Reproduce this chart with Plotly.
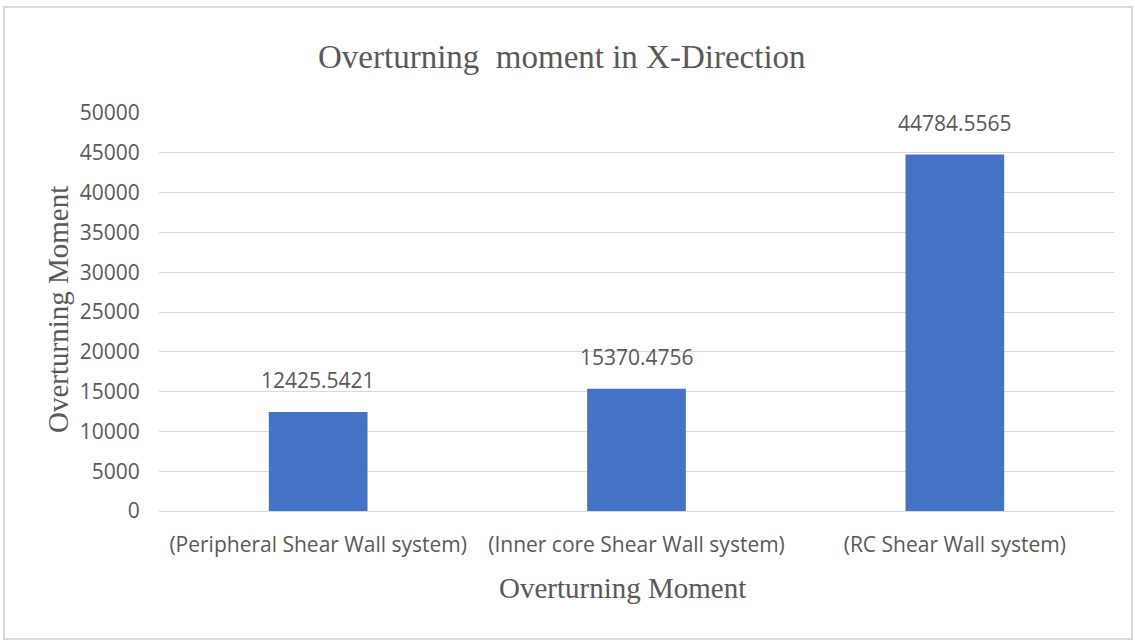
import plotly.graph_objects as go

categories = ["(Peripheral Shear Wall system)", "(Inner core Shear Wall system)", "(RC Shear Wall system)"]
values = [12425.5421, 15370.4756, 44784.5565]
value_labels = ["12425.5421", "15370.4756", "44784.5565"]
title_text = "Overturning  moment in X-Direction"
x_title = "Overturning Moment"
y_title = "Overturning Moment"

W, H = 1135, 640
L, R, T, B = 159, 21, 113, 129
pw = W - L - R
ph = H - T - B

def px(x):
    return (x - L) / pw

def py(y):
    return (H - B - y) / ph

gray = "#595959"
sans = "Open Sans, sans-serif"
serif = "Liberation Serif, Times New Roman, serif"

fig = go.Figure(go.Bar(
    x=categories, y=values, width=0.31,
    marker=dict(color="#4472C4", line=dict(width=0)),
))

annotations = [
    dict(text=t, x=c, y=v, xref="x", yref="y", xanchor="center", yanchor="bottom",
         yshift=16, showarrow=False, font=dict(family=sans, size=21, color=gray))
    for c, v, t in zip(categories, values, value_labels)
]
annotations += [
    dict(text=title_text, x=px(562), y=py(57), xref="paper", yref="paper",
         xanchor="center", yanchor="middle", showarrow=False,
         font=dict(family=serif, size=33, color=gray)),
    dict(text=y_title, x=px(58), y=py(310), xref="paper", yref="paper",
         xanchor="center", yanchor="middle", showarrow=False, textangle=-90,
         font=dict(family=serif, size=29, color=gray)),
    dict(text=x_title, x=px(622), y=py(588), xref="paper", yref="paper",
         xanchor="center", yanchor="middle", showarrow=False,
         font=dict(family=serif, size=29, color=gray)),
]

fig.update_layout(
    width=W, height=H,
    margin=dict(l=L, r=R, t=T, b=B, autoexpand=False),
    paper_bgcolor="white", plot_bgcolor="white",
    showlegend=False,
    xaxis=dict(
        showgrid=False, showline=True, linecolor="#D9D9D9", linewidth=1,
        ticks="outside", ticklen=15, tickcolor="rgba(0,0,0,0)",
        tickfont=dict(family=sans, size=21, color=gray),
        automargin=False,
    ),
    yaxis=dict(
        range=[0, 50000], dtick=5000, showgrid=True, gridcolor="#D9D9D9", gridwidth=1,
        zeroline=False, showline=False,
        ticks="outside", ticklen=14, tickcolor="rgba(0,0,0,0)",
        tickfont=dict(family=sans, size=21, color=gray),
        tickformat="d", automargin=False,
    ),
    annotations=annotations,
    shapes=[
        dict(type="rect", xref="paper", yref="paper",
             x0=px(4), x1=px(1132), y0=py(639), y1=py(7),
             line=dict(color="#D9D9D9", width=2), fillcolor="rgba(0,0,0,0)", layer="below"),
    ],
)

fig.write_html("out.html")
